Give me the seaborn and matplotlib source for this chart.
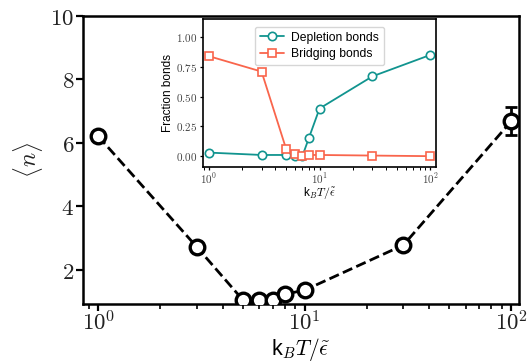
import numpy as np
import pandas as pd
import seaborn as sns
import matplotlib
matplotlib.use("Agg")
import matplotlib.pyplot as plt
from matplotlib.ticker import FixedLocator, FuncFormatter, LogLocator, NullFormatter

# Data
kT = [1, 3, 5, 6, 7, 8, 10, 30, 100]
n_mean = [6.21, 2.72, 1.06, 1.05, 1.05, 1.23, 1.36, 2.78, 6.69]
n_err = [0, 0, 0, 0, 0, 0, 0, 0, 0.44]
depletion = [0.03, 0.01, 0.01, 0.005, 0.0, 0.15, 0.40, 0.67, 0.85]
bridging = [0.84, 0.71, 0.06, 0.02, 0.0, 0.01, 0.01, 0.005, 0.0]
main_yticks = [2, 4, 6, 8, 10]
inset_yticks = [0.0, 0.25, 0.5, 0.75, 1.0]

sns.set_style("ticks", {"axes.edgecolor": "black", "xtick.color": "black",
                        "ytick.color": "black", "text.color": "black",
                        "axes.labelcolor": "black"})
plt.rcParams['font.family'] = ['Liberation Sans', 'DejaVu Sans']
plt.rcParams['mathtext.fontset'] = 'cm'

fig = plt.figure(figsize=(5.29, 3.62), dpi=100)
ax = fig.add_axes([0.157, 0.160, 0.824, 0.796])

df = pd.DataFrame({"kT": kT, "n": n_mean})
sns.lineplot(data=df, x="kT", y="n", ax=ax, color="black", linestyle="--",
             linewidth=2, marker="o", markersize=10.5, markerfacecolor="white",
             markeredgecolor="black", markeredgewidth=2.4, zorder=3)
ax.errorbar(kT[-1:], n_mean[-1:], yerr=n_err[-1:], fmt="none", ecolor="black",
            elinewidth=2, capsize=4, capthick=2, zorder=2)

ax.set_xscale("log")
ax.set_xlim(0.845, 108.7)
ax.set_ylim(0.92, 10)
ax.yaxis.set_major_locator(FixedLocator(main_yticks))
ax.yaxis.set_major_formatter(FuncFormatter(lambda v, p: r"$%d$" % v))
ax.xaxis.set_major_locator(LogLocator(base=10))
ax.xaxis.set_major_formatter(FuncFormatter(lambda v, p: r"$10^{%d}$" % round(np.log10(v))))
ax.xaxis.set_minor_locator(LogLocator(base=10, subs=np.arange(2, 10)))
ax.xaxis.set_minor_formatter(NullFormatter())
ax.tick_params(axis="both", which="major", labelsize=16.5, width=1.6, length=5,
               direction="out", labelcolor="#222222")
ax.tick_params(axis="x", which="major", pad=0.5)
ax.tick_params(axis="y", which="major", pad=1.5)
ax.tick_params(axis="x", which="minor", width=1.2, length=3.5)
for s in ax.spines.values():
    s.set_linewidth(1.8)
ax.set_xlabel(r"k$_B T/\tilde{\epsilon}$", fontsize=15.5, labelpad=0)
ax.set_ylabel(r"$\langle n \rangle$", fontsize=17, labelpad=4, color="#222222")

# Inset
ax2 = fig.add_axes([0.384, 0.539, 0.440, 0.408])
df2 = pd.DataFrame({"kT": kT, "dep": depletion, "bri": bridging})
sns.lineplot(data=df2, x="kT", y="dep", ax=ax2, color="#11948f", linewidth=1.3,
             marker="o", markersize=6, markerfacecolor="white",
             markeredgecolor="#11948f", markeredgewidth=1.2, label="Depletion bonds")
sns.lineplot(data=df2, x="kT", y="bri", ax=ax2, color="#f9654c", linewidth=1.3,
             marker="s", markersize=6, markerfacecolor="white",
             markeredgecolor="#f9654c", markeredgewidth=1.2, label="Bridging bonds")
ax2.set_xscale("log")
ax2.set_xlim(0.891, 112.2)
ax2.set_ylim(-0.09, 1.15)
ax2.yaxis.set_major_locator(FixedLocator(inset_yticks))
ax2.yaxis.set_major_formatter(FuncFormatter(lambda v, p: r"$%.2f$" % v))
ax2.xaxis.set_major_locator(LogLocator(base=10))
ax2.xaxis.set_major_formatter(FuncFormatter(lambda v, p: r"$10^{%d}$" % round(np.log10(v))))
ax2.xaxis.set_minor_locator(LogLocator(base=10, subs=np.arange(2, 10)))
ax2.xaxis.set_minor_formatter(NullFormatter())
ax2.tick_params(axis="both", which="major", labelsize=8, width=0.9, length=2.5,
                labelcolor="#444444", pad=1.5)
ax2.tick_params(axis="x", which="major", pad=0.5)
ax2.tick_params(axis="x", which="minor", width=0.7, length=1.8)
for s in ax2.spines.values():
    s.set_linewidth(1.2)
ax2.set_xlabel(r"k$_B T/\tilde{\epsilon}$", fontsize=8.5, labelpad=0.5)
ax2.set_ylabel("Fraction bonds", fontsize=8.5, labelpad=2)
ax2.legend(loc="upper center", fontsize=8.7, frameon=True, handlelength=2.0,
           borderpad=0.4, labelspacing=0.4, handletextpad=0.6,
           bbox_to_anchor=(0.5, 0.99))

fig.savefig("out.png", dpi=100)
